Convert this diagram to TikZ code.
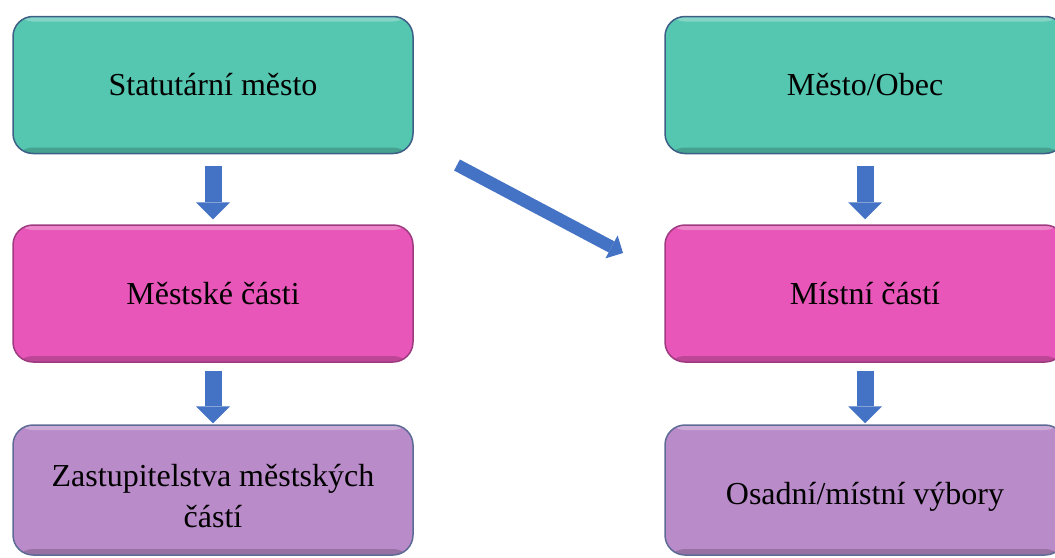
\documentclass[tikz,border=0pt]{standalone}
\usepackage{fontspec}
\setmainfont{Liberation Serif}
\usetikzlibrary{arrows.meta}
\definecolor{tealfill}{HTML}{55C6B0}
\definecolor{tealline}{HTML}{3D5F86}
\definecolor{pinkfill}{HTML}{E756B8}
\definecolor{pinkline}{HTML}{9E3A80}
\definecolor{purpfill}{HTML}{B98BC8}
\definecolor{purpline}{HTML}{5D6A95}
\definecolor{arrowblue}{HTML}{4472C4}
\tikzset{
  box/.style={rounded corners=20pt, minimum width=400pt, minimum height=137pt,
    inner sep=0pt, line width=1.5pt, align=center,
    font=\fontsize{32}{41}\selectfont,
    path picture={
      \fill[white,opacity=0.28] (path picture bounding box.north west) rectangle ([yshift=-5pt]path picture bounding box.north east);
      \fill[black,opacity=0.18] ([yshift=6pt]path picture bounding box.south west) rectangle (path picture bounding box.south east);
    }},
  tealbox/.style={box, fill=tealfill, draw=tealline},
  pinkbox/.style={box, fill=pinkfill, draw=pinkline},
  purpbox/.style={box, fill=purpfill, draw=purpline, minimum height=130pt},
  downarrow/.style={draw=arrowblue, line width=17pt,
    -{Triangle[width=34pt,length=17pt,line width=0pt]}},
  diagarrow/.style={draw=arrowblue, line width=12.5pt,
    -{Triangle[width=26pt,length=13pt,line width=0pt]}}
}
\begin{document}
\begin{tikzpicture}[x=1pt,y=-1pt]
\useasboundingbox (0,0) rectangle (1055,557);
\clip (0,0) rectangle (1055,557);
\node[tealbox] (sm) at (213,85) {Statutární město};
\node[pinkbox] (mc) at (213,293.5) {Městské části};
\node[purpbox, text height=76pt] (zm) at (213,490) {Zastupitelstva městských\\částí};
\node[tealbox] (mo) at (865,85) {Město/Obec};
\node[pinkbox] (mi) at (865,293.5) {Místní částí};
\node[purpbox, text height=36pt] (ov) at (865,490) {Osadní/místní výbory};
\draw[downarrow] ([yshift=-12pt]sm.south) -- ([yshift=5pt]mc.north);
\draw[downarrow] ([yshift=-8pt]mc.south) -- ([yshift=1pt]zm.north);
\draw[downarrow] ([yshift=-12pt]mo.south) -- ([yshift=5pt]mi.north);
\draw[downarrow] ([yshift=-8pt]mi.south) -- ([yshift=1pt]ov.north);
\coordinate (dstart) at (457,165);
\coordinate (dend) at (623,253);
\draw[diagarrow] (dstart) -- (dend);
\end{tikzpicture}
\end{document}
